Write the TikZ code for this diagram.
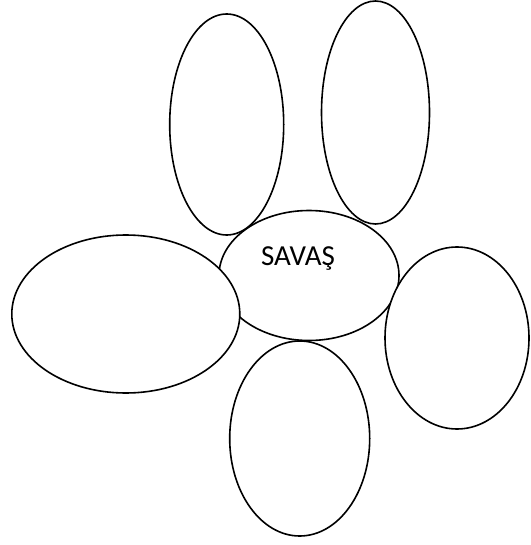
\documentclass[tikz,border=0pt]{standalone}
\usepackage{fontspec}
\setmainfont{Carlito}
\usetikzlibrary{shapes.geometric}
\begin{document}
\begin{tikzpicture}[x=1pt,y=-1pt,
  petal/.style={ellipse, draw=black, fill=white, line width=1.6pt, inner sep=0pt, outer sep=0pt},
  label/.style={font=\fontsize{29}{32}\selectfont, inner sep=0pt, anchor=base}]
\useasboundingbox (0,0) rectangle (530,545);
\node[petal, minimum width=180pt, minimum height=130pt] (center) at (309,275.5) {};
\node[label] (savas) at (298,265.7) {SAVAŞ};
\node[petal, minimum width=114pt, minimum height=221pt] (tl) at (226.7,124.5) {};
\node[petal, minimum width=108pt, minimum height=223pt] (tr) at (375.5,112.5) {};
\node[petal, minimum width=228pt, minimum height=158pt] (left) at (125.8,314) {};
\node[petal, minimum width=144pt, minimum height=182pt] (right) at (457,338) {};
\node[petal, minimum width=140pt, minimum height=195pt] (bottom) at (299.7,438.5) {};
\end{tikzpicture}
\end{document}
